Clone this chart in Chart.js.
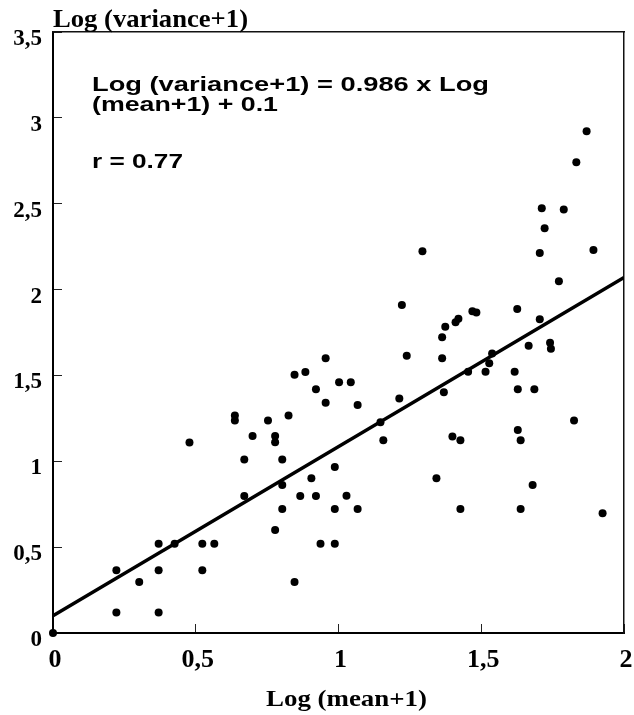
<!DOCTYPE html>
<html>
<head>
<meta charset="utf-8">
<script src="https://cdn.jsdelivr.net/npm/chart.js@4.4.1/dist/chart.umd.min.js"></script>
<style>
  body { margin: 0; background: #fff; }
  #grafico { display: block; }
</style>
</head>
<body>
<canvas id="grafico" width="634" height="715"></canvas>
<script>
// valores
const logMean = [
  0, 0.222, 0.222, 0.302, 0.370, 0.370, 0.370, 0.426, 0.478, 0.523,
  0.523, 0.565, 0.637, 0.637, 0.670, 0.670, 0.699, 0.753, 0.778, 0.778,
  0.778, 0.803, 0.803, 0.803, 0.825, 0.846, 0.866, 0.905, 0.921, 0.937,
  0.846, 0.884, 0.921, 0.955, 0.955, 1.002, 1.043, 1.067, 1.147, 1.157,
  1.213, 1.239, 1.363, 1.363, 1.369, 1.399, 1.427, 1.454, 1.515, 1.528,
  1.538, 1.617, 1.628, 1.686, 1.666, 1.741, 1.744, 1.628, 1.638, 1.825,
  0.987, 1.028, 0.987, 1.067, 0.987, 1.343, 1.427, 1.638, 1.680, 1.925,
  1.869, 1.833, 1.712, 1.789, 1.722, 1.705, 1.893, 1.294, 1.772, 1.222,
  1.626, 1.705, 1.374, 1.410, 1.420, 1.469, 1.483
]
const logVariance = [
  0, 0.365, 0.120, 0.297, 0.520, 0.365, 0.120, 0.520, 1.110, 0.520,
  0.365, 0.520, 1.266, 1.237, 1.011, 0.798, 1.147, 1.237, 1.147, 1.111,
  0.600, 1.011, 0.862, 0.722, 1.266, 0.297, 0.798, 0.901, 0.798, 0.520,
  1.504, 1.520, 1.419, 1.600, 1.341, 1.460, 1.460, 1.328, 1.227, 1.122,
  1.365, 1.615, 1.722, 1.600, 1.402, 1.144, 1.122, 1.522, 1.522, 1.571,
  1.627, 1.522, 1.419, 1.419, 1.673, 1.691, 1.656, 1.182, 1.122, 1.237,
  0.967, 0.800, 0.722, 0.722, 0.520, 0.901, 0.722, 0.722, 0.862, 0.697,
  2.922, 2.741, 2.473, 2.466, 2.357, 2.213, 2.231, 2.223, 2.048, 1.910,
  1.887, 1.827, 1.784, 1.810, 1.830, 1.874, 1.866
]
const rectaX = [0, 2]
const rectaY = [0.10, 2.07]
const ticksX = ['0', '0,5', '1', '1,5', '2']
const ticksY = ['0', '0,5', '1', '1,5', '2', '2,5', '3', '3,5']

const puntos = logMean.map((x, i) => ({ x: x, y: logVariance[i] }))
const recta = rectaX.map((x, i) => ({ x: x, y: rectaY[i] }))

// texto con ancho fijo (la figura original viene estirada en horizontal)
const escribir = (ctx, texto, x, y, font, ancho) => {
  ctx.save()
  ctx.font = font
  ctx.fillStyle = '#000'
  ctx.textBaseline = 'alphabetic'
  ctx.textAlign = 'left'
  const w = ctx.measureText(texto).width
  ctx.translate(x, y)
  ctx.scale(ancho / w, 1)
  ctx.fillText(texto, 0, 0)
  ctx.restore()
}

const textos = {
  id: 'textos',
  afterDraw(chart) {
    const ctx = chart.ctx
    const serif = 'bold 25px "Liberation Serif", "Times New Roman", serif'
    const sans = 'bold 21px "Liberation Sans", Arial, sans-serif'
    escribir(ctx, 'Log (variance+1)', 53, 26.5, serif, 195)
    escribir(ctx, 'Log (mean+1)', 266, 706, 'bold 24px "Liberation Serif", serif', 161)
    escribir(ctx, 'Log (variance+1) = 0.986 x Log', 92, 90.5, sans, 397)
    escribir(ctx, '(mean+1) + 0.1', 92, 110.5, sans, 186)
    escribir(ctx, 'r = 0.77', 92, 168, sans, 91)
  }
}

const fuenteTicks = (size) => ({ family: '"Liberation Serif", "Times New Roman", serif', size: size, weight: 'bold' })

new Chart(document.querySelector('#grafico'), {
  type: 'scatter',
  data: {
    datasets: [{
      data: recta,
      type: 'line',
      xAxisID: 'x',
      yAxisID: 'y',
      borderColor: '#000',
      borderWidth: 3.5,
      pointRadius: 0,
      fill: false,
      tension: 0
    }, {
      data: puntos,
      xAxisID: 'x',
      yAxisID: 'y',
      backgroundColor: '#000',
      borderWidth: 0,
      pointRadius: 4,
      pointHoverRadius: 4,
      clip: false
    }]
  },
  options: {
    responsive: false,
    animation: false,
    events: [],
    layout: { padding: { top: 32, right: 10, left: 0, bottom: 0 } },
    plugins: { legend: { display: false }, tooltip: { enabled: false } },
    scales: {
      x: {
        type: 'linear',
        position: 'bottom',
        min: 0,
        max: 2,
        ticks: {
          stepSize: 0.5,
          callback: (v) => ticksX[Math.round(v * 2)],
          font: fuenteTicks(26),
          color: '#000',
          padding: 21,
          labelOffset: 2,
          maxRotation: 0
        },
        grid: { drawOnChartArea: false, tickLength: -9, color: '#222', lineWidth: 1 },
        border: { color: '#000', width: 2 },
        afterFit: (s) => { s.height = 82; s.paddingLeft = 7; s.paddingRight = 7 }
      },
      y: {
        type: 'linear',
        position: 'left',
        min: 0,
        max: 3.5,
        ticks: {
          stepSize: 0.5,
          callback: (v) => ticksY[Math.round(v * 2)],
          font: fuenteTicks(23),
          color: '#000',
          padding: 20,
          labelOffset: 7
        },
        grid: { drawOnChartArea: false, tickLength: -9, color: '#222', lineWidth: 1 },
        border: { color: '#000', width: 2 },
        afterFit: (s) => { s.width = 53; s.paddingTop = 0; s.paddingBottom = 0 }
      },
      xTop: {
        type: 'linear',
        axis: 'x',
        position: 'top',
        min: 0,
        max: 2,
        ticks: { display: false },
        grid: { display: false, drawTicks: false },
        border: { color: '#111', width: 1.5 },
        afterFit: (s) => { s.height = 0; s.paddingLeft = 0; s.paddingRight = 0 }
      },
      yRight: {
        type: 'linear',
        axis: 'y',
        position: 'right',
        min: 0,
        max: 3.5,
        ticks: { display: false },
        grid: { display: false, drawTicks: false },
        border: { color: '#111', width: 1.5 },
        afterFit: (s) => { s.width = 0; s.paddingTop = 0; s.paddingBottom = 0 }
      }
    }
  },
  plugins: [textos]
})
</script>
</body>
</html>
